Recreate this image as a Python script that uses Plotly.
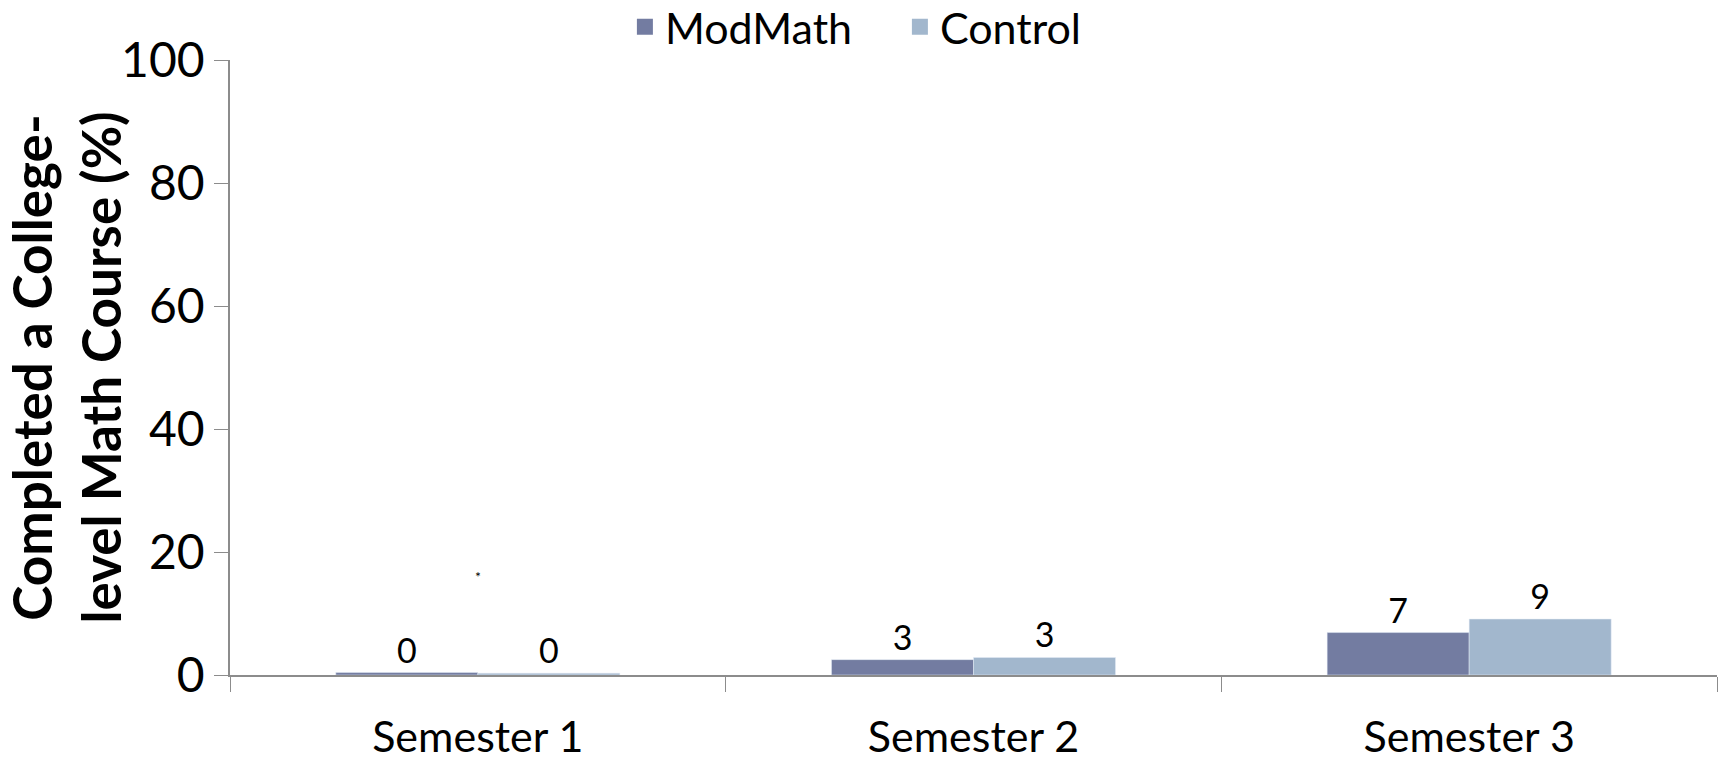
import plotly.graph_objects as go

categories = ["Semester 1", "Semester 2", "Semester 3"]
modmath = [0.4, 2.5, 6.9]
control = [0.3, 2.85, 9.1]
modmath_labels = ["0", "3", "7"]
control_labels = ["0", "3", "9"]
y_ticks = [0, 20, 40, 60, 80, 100]
sig_category = "Semester 1"
sig_value = 16

C_MOD = "#737ca1"
C_CTL = "#a2b7cd"
FONT = "Lato"
AXIS = "#8c8c8c"

fig = go.Figure()
fig.add_trace(go.Bar(x=categories, y=modmath, name="ModMath", marker_color=C_MOD,
                     text=modmath_labels, textposition="outside", cliponaxis=False,
                     textfont=dict(size=34, color="black", family=FONT), showlegend=False))
fig.add_trace(go.Bar(x=categories, y=control, name="Control", marker_color=C_CTL,
                     text=control_labels, textposition="outside", cliponaxis=False,
                     textfont=dict(size=34, color="black", family=FONT), showlegend=False))
# legend entries
fig.add_trace(go.Scatter(x=[categories[0]], y=[None], mode="markers", name="ModMath",
                         marker=dict(symbol="square", size=16, color=C_MOD)))
fig.add_trace(go.Scatter(x=[categories[0]], y=[None], mode="markers", name="Control",
                         marker=dict(symbol="square", size=16, color=C_CTL)))

fig.add_annotation(x=sig_category, y=sig_value, text="*", showarrow=False,
                   font=dict(size=14, color="black", family=FONT))

fig.update_layout(
    width=1719, height=760,
    margin=dict(l=230, r=2, t=60, b=85, autoexpand=False),
    paper_bgcolor="white", plot_bgcolor="white",
    barmode="group", bargap=0.427, bargroupgap=0,
    font=dict(family=FONT, color="black"),
    legend=dict(orientation="h", xref="container", x=0.5235, xanchor="center",
                yref="paper", y=1.054, yanchor="middle",
                font=dict(size=43, family=FONT), itemwidth=30,
                entrywidth=230, entrywidthmode="pixels",
                tracegroupgap=0, bgcolor="rgba(0,0,0,0)"),
)
fig.update_xaxes(type="category", showline=True, linecolor=AXIS, linewidth=1.5,
                 ticks="outside", tickson="boundaries", ticklen=15, tickcolor=AXIS,
                 tickfont=dict(size=43, family=FONT), ticklabelstandoff=24,
                 showgrid=False, zeroline=False, automargin=False)
fig.update_yaxes(range=[0, 100], tickvals=y_ticks, showline=True, linecolor=AXIS,
                 linewidth=1.5, ticks="outside", ticklen=14, tickcolor=AXIS,
                 tickfont=dict(size=48, family=FONT), showgrid=False, zeroline=False,
                 automargin=False,
                 title=dict(text="<b>Completed a College-<br>level Math Course (%)</b>",
                            font=dict(size=53, family=FONT), standoff=4))

fig.write_html("out.html")
